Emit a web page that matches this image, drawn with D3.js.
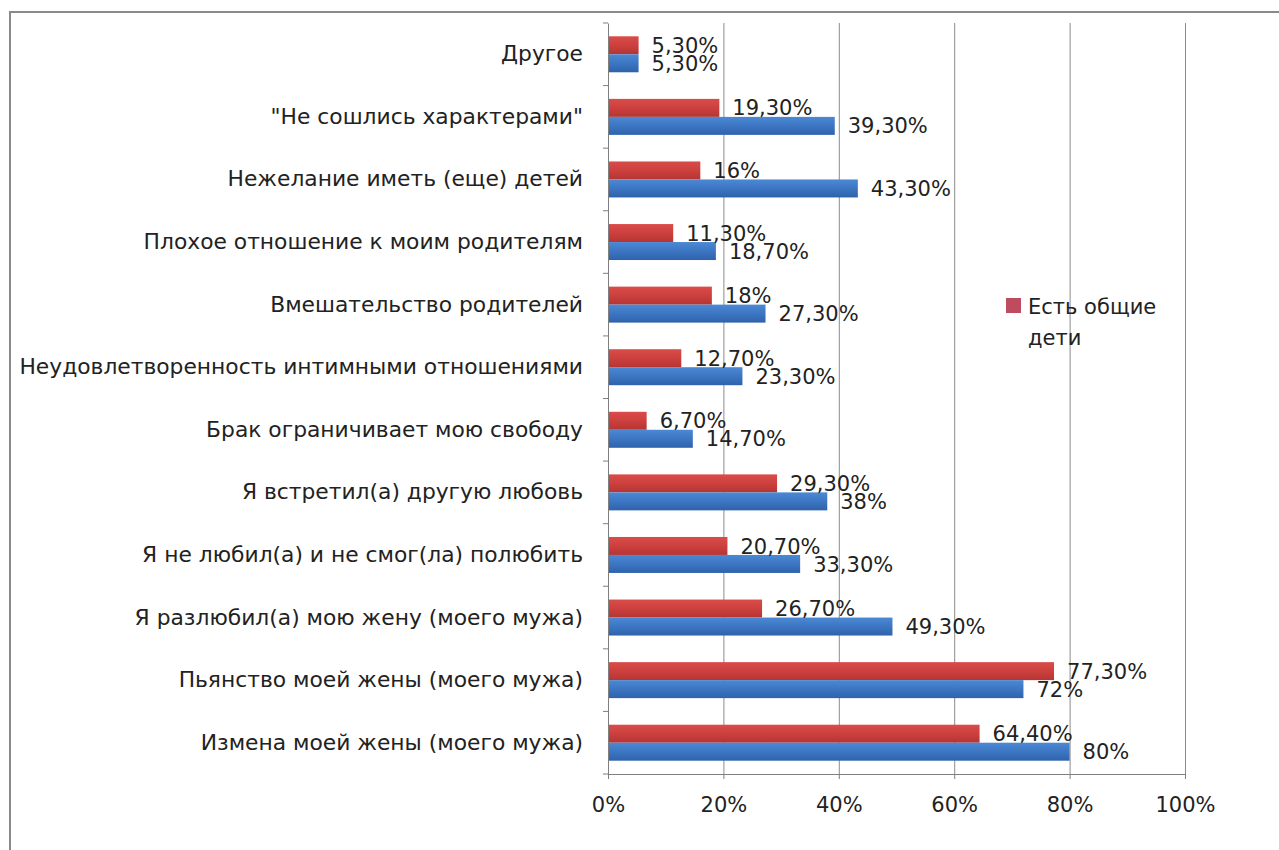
<!DOCTYPE html>
<meta charset="utf-8">
<style>
body { margin: 0; background: #fff; }
text { font-family: "DejaVu Sans", sans-serif; fill: #222; }
.axis path, .axis line { stroke: #7f7f7f; }
.grid line { stroke: #8c8c8c; }
.grid path { display: none; }
</style>
<svg width="1279" height="850"></svg>
<script src="https://cdn.jsdelivr.net/npm/d3@7"></script>
<script>

// categories top to bottom
var categories = [
  "Другое",
  "\"Не сошлись характерами\"",
  "Нежелание иметь (еще) детей",
  "Плохое отношение к моим родителям",
  "Вмешательство родителей",
  "Неудовлетворенность интимными отношениями",
  "Брак ограничивает мою свободу",
  "Я встретил(а) другую любовь",
  "Я не любил(а) и не смог(ла) полюбить",
  "Я разлюбил(а) мою жену (моего мужа)",
  "Пьянство моей жены (моего мужа)",
  "Измена моей жены (моего мужа)"
];
var withKids = [5.3, 19.3, 16, 11.3, 18, 12.7, 6.7, 29.3, 20.7, 26.7, 77.3, 64.4];
var noKids   = [5.3, 39.3, 43.3, 18.7, 27.3, 23.3, 14.7, 38, 33.3, 49.3, 72, 80];
var xTicks = [0, 20, 40, 60, 80, 100];
var legendLines = ["Есть общие", "дети"];

var svg = d3.select("svg");

var margin = {left: 608, right: 94, top: 23, bottom: 76},
    width = 1279 - margin.left - margin.right,
    height = 850 - margin.top - margin.bottom;

// outer frame (runs off the right and bottom edges)
svg.append("rect")
    .attr("x", 10).attr("y", 12)
    .attr("width", 1400).attr("height", 1000)
    .attr("fill", "none").attr("stroke", "#8a8a8a").attr("stroke-width", 2);

var defs = svg.append("defs");
function grad(id, c1, c2, c3) {
  var g = defs.append("linearGradient").attr("id", id)
      .attr("x1", 0).attr("y1", 0).attr("x2", 0).attr("y2", 1);
  g.append("stop").attr("offset", "0%").attr("stop-color", c1);
  g.append("stop").attr("offset", "50%").attr("stop-color", c2);
  g.append("stop").attr("offset", "100%").attr("stop-color", c3);
}
grad("gRed", "#d94c4a", "#cc403e", "#b53533");
grad("gBlue", "#4c88d4", "#3c76c2", "#2f62ab");

var g = svg.append("g").attr("transform", "translate(" + margin.left + "," + margin.top + ")");

var x = d3.scaleLinear().domain([0, 100]).range([0, width]);
var y = d3.scaleBand().domain(categories).range([0, height])
    .paddingInner(0.425).paddingOuter(0.2125);
var series = [
  {key: "red", fill: "url(#gRed)", values: withKids},
  {key: "blue", fill: "url(#gBlue)", values: noKids}
];
var y1 = d3.scaleBand().domain(series.map(function(s) { return s.key; })).range([0, y.bandwidth()]);

// gridlines
g.append("g").attr("class", "grid")
    .call(d3.axisBottom(x).tickValues(xTicks.slice(1)).tickSize(height).tickFormat(""));

// bars
series.forEach(function(s) {
  g.append("g").selectAll("rect")
      .data(categories)
    .enter().append("rect")
      .attr("x", x(0))
      .attr("y", function(d) { return y(d) + y1(s.key); })
      .attr("height", y1.bandwidth())
      .attr("width", function(d, i) { return x(s.values[i]) - x(0); })
      .attr("fill", s.fill);
});

function fmt(v) {
  return v % 1 === 0 ? v + "%" : v.toFixed(2).replace(".", ",") + "%";
}

// value labels
series.forEach(function(s) {
  g.append("g").selectAll("text")
      .data(categories)
    .enter().append("text")
      .attr("x", function(d, i) { return x(s.values[i]) + 13; })
      .attr("y", function(d) { return y(d) + y1(s.key) + y1.bandwidth() / 2; })
      .attr("dy", "0.36em")
      .style("font-size", "21px")
      .text(function(d, i) { return fmt(s.values[i]); });
});

// x axis
var xAxis = g.append("g").attr("class", "axis")
    .attr("transform", "translate(0," + height + ")")
    .call(d3.axisBottom(x).tickValues(xTicks).tickSize(5).tickSizeOuter(0).tickPadding(18)
      .tickFormat(function(d) { return d + "%"; }));
xAxis.selectAll("text").style("font-size", "21px").attr("fill", "#222");

// y axis with category labels
var yAxis = g.append("g").attr("class", "axis")
    .call(d3.axisLeft(y).tickSize(0).tickPadding(25).tickSizeOuter(0));
yAxis.selectAll("text").style("font-size", "21.8px").attr("fill", "#222");
yAxis.selectAll(".tick line").remove();

// ticks at band boundaries
var bounds = d3.range(categories.length + 1).map(function(i) { return y.range()[0] + i * y.step(); });
g.append("g").selectAll("line")
    .data(bounds)
  .enter().append("line")
    .attr("x1", -5).attr("x2", 0)
    .attr("y1", function(d) { return d; }).attr("y2", function(d) { return d; })
    .attr("stroke", "#7f7f7f");

// legend
var legend = svg.append("g").attr("transform", "translate(1006,298)");
legend.append("rect").attr("width", 15).attr("height", 15).attr("fill", "#be4b5e");
legend.selectAll("text")
    .data(legendLines)
  .enter().append("text")
    .attr("x", 22)
    .attr("y", function(d, i) { return 16 + i * 31; })
    .style("font-size", "21px")
    .text(function(d) { return d; });

</script>
